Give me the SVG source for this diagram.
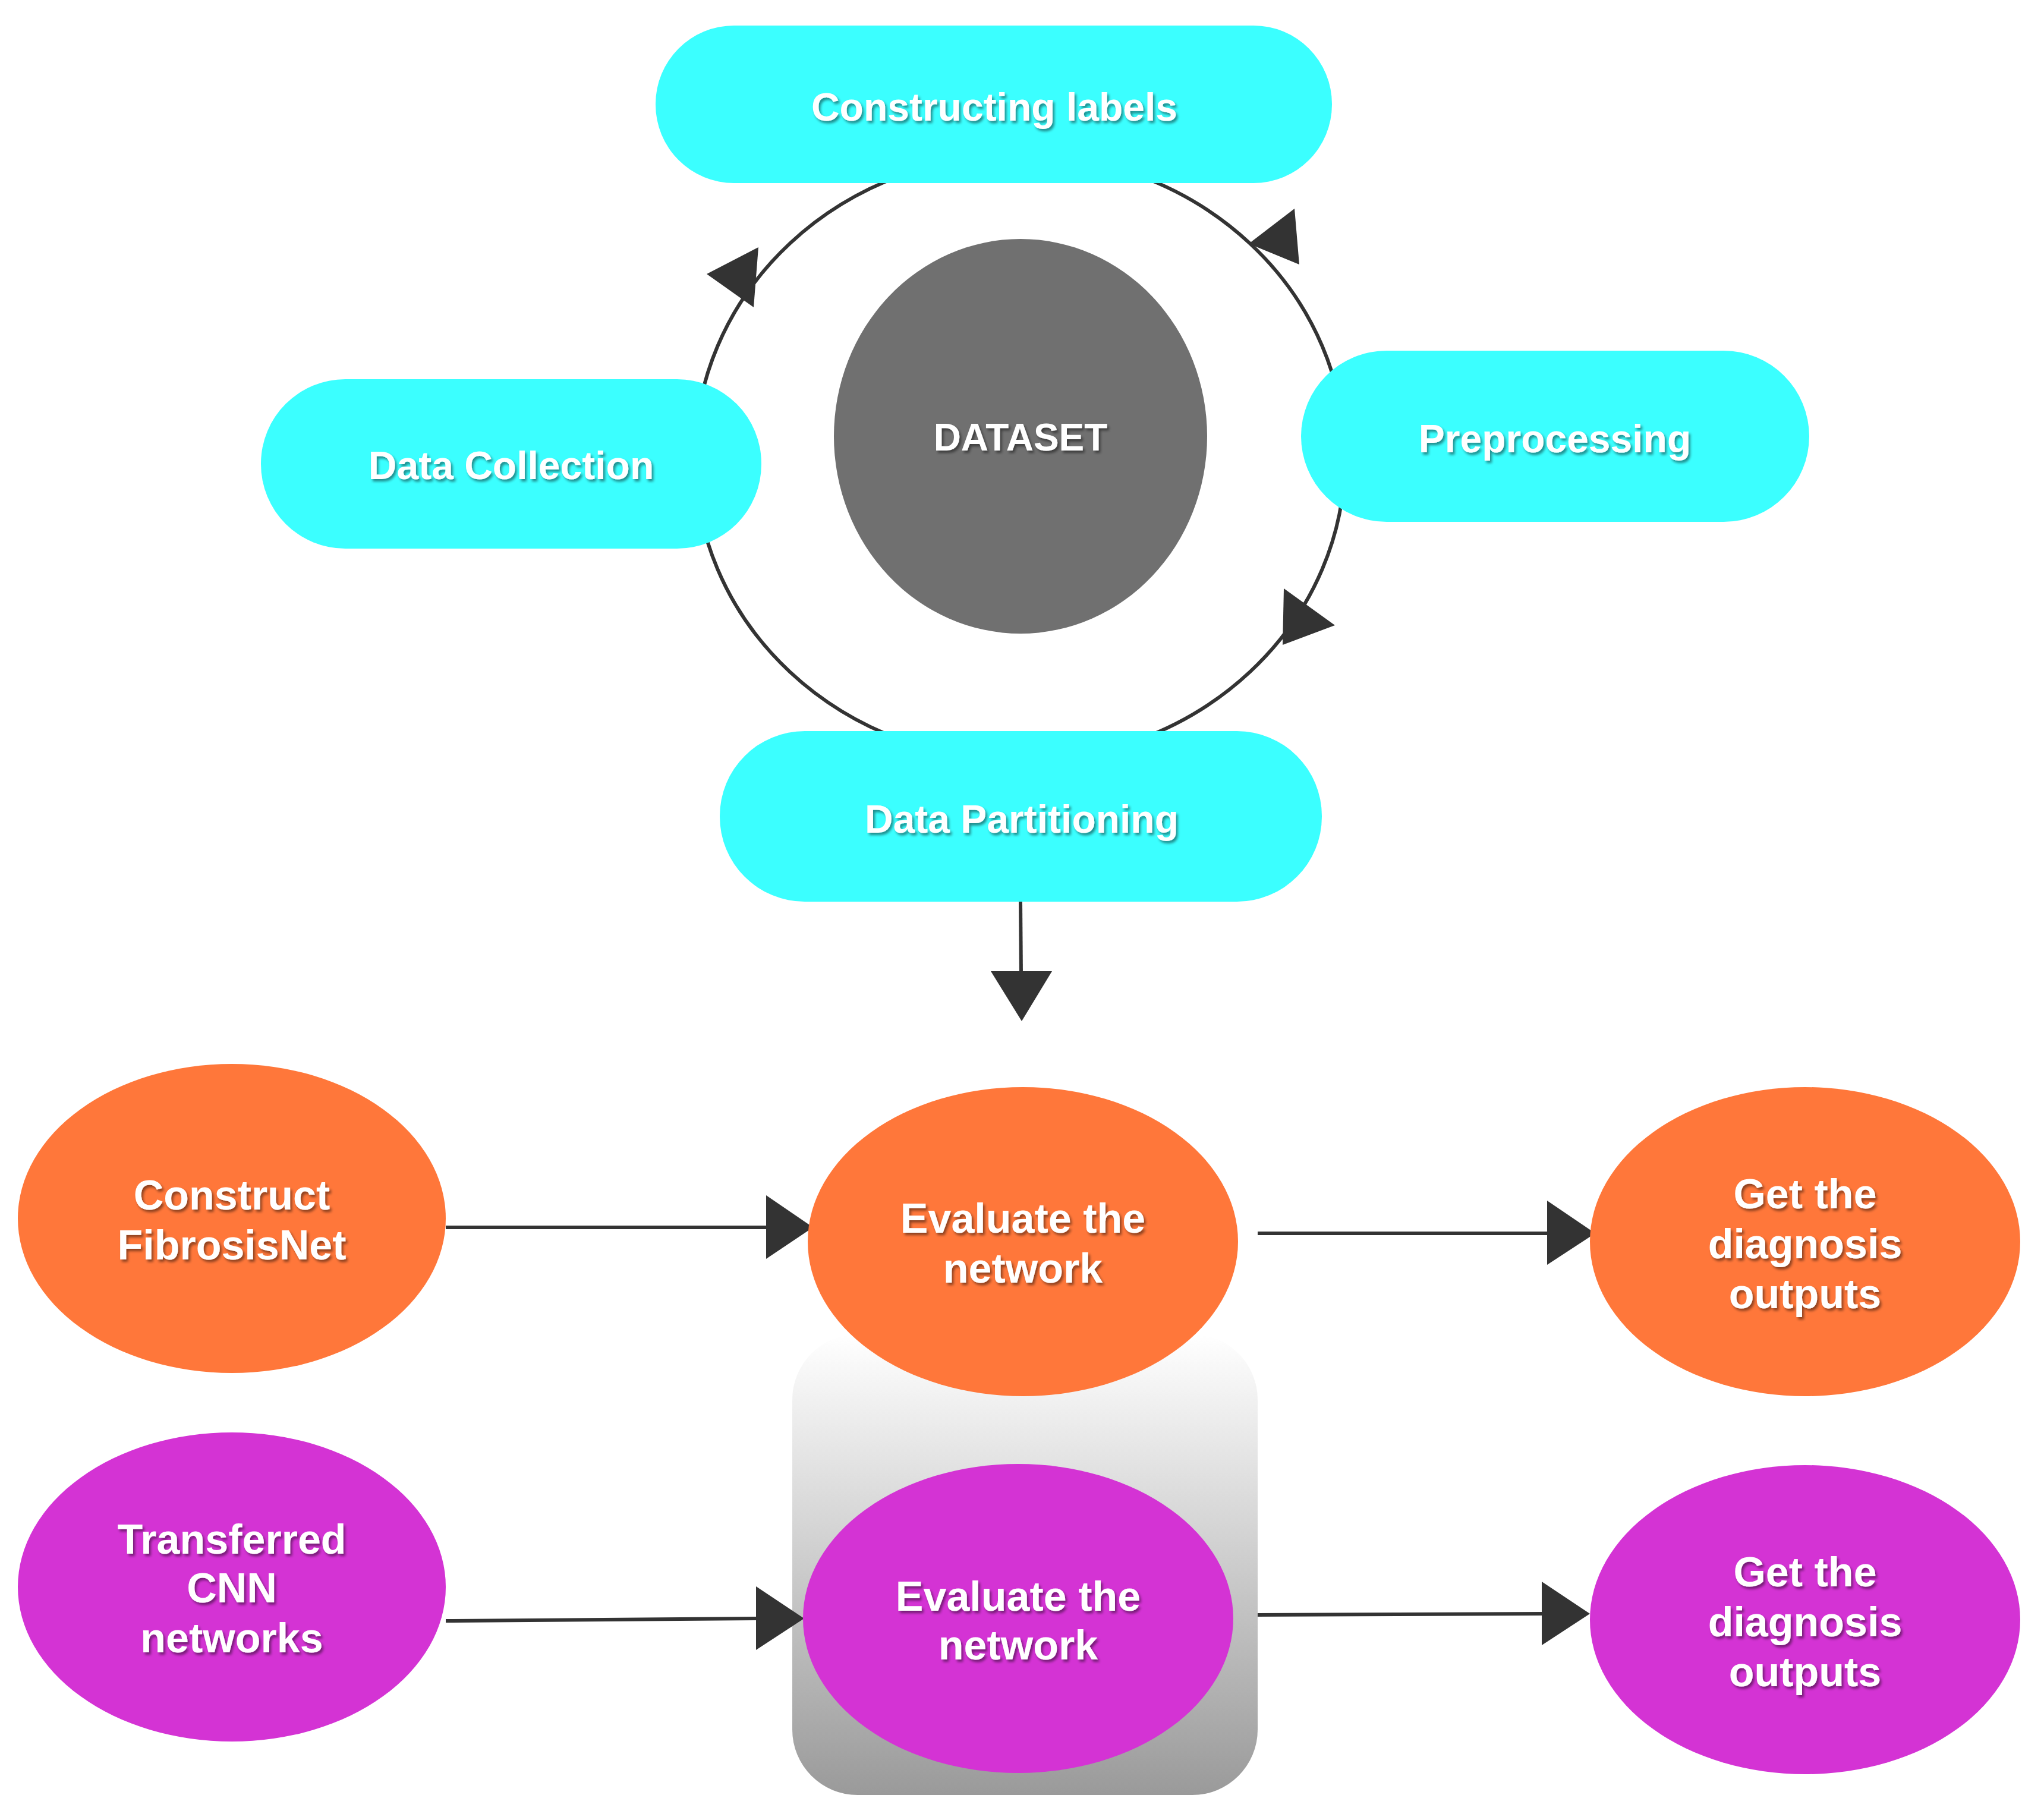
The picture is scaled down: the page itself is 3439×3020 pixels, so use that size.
<svg xmlns="http://www.w3.org/2000/svg" width="3439" height="3020" viewBox="0 0 3439 3020">
<defs>
<linearGradient id="g" x1="0" y1="0" x2="0" y2="1"><stop offset="0" stop-color="#ffffff"/><stop offset="1" stop-color="#9a9a9a"/></linearGradient>
<filter id="sh" x="-10%" y="-10%" width="120%" height="130%"><feDropShadow dx="3" dy="4" stdDeviation="2" flood-color="#000" flood-opacity="0.45"/></filter>
<style>
.t{font-family:"Liberation Sans",Arial,sans-serif;font-weight:bold;fill:#fff;text-anchor:middle;dominant-baseline:central;filter:url(#sh)}
.c{fill:#3BFFFF}.o{fill:#FF773A}.m{fill:#D433D4}
.ln{stroke:#333;stroke-width:6;fill:none}
.ah{fill:#333}
</style>
</defs>
<rect width="3439" height="3020" fill="#fff"/>
<rect x="1333" y="2245" width="783" height="775" rx="110" fill="url(#g)"/>
<g id="connectors">
<ellipse cx="1716" cy="770" rx="547" ry="510" class="ln"/>
<polygon class="ah" points="2101,410 2178,351 2186,445"/>
<polygon class="ah" points="1189,461 1276,416 1268,517"/>
<polygon class="ah" points="2160,990 2246,1052 2158,1085"/>
<line class="ln" x1="1717" y1="1517" x2="1718" y2="1640"/>
<polygon class="ah" points="1667,1634 1770,1634 1719,1718"/>
<line class="ln" x1="750" y1="2065" x2="1294" y2="2065"/>
<polygon class="ah" points="1289,2011 1289,2118 1368,2065"/>
<line class="ln" x1="2116" y1="2075" x2="2610" y2="2075"/>
<polygon class="ah" points="2603,2020 2603,2128 2684,2075"/>
<line class="ln" x1="750" y1="2727" x2="1279" y2="2723"/>
<polygon class="ah" points="1272,2669 1272,2776 1353,2723"/>
<line class="ln" x1="2116" y1="2717" x2="2599" y2="2715"/>
<polygon class="ah" points="2594,2661 2594,2768 2675,2715"/>
</g>
<g id="dataset"><ellipse cx="1717" cy="734" rx="314" ry="332" fill="#707070"/><text class="t" x="1717" y="736" font-size="64">DATASET</text></g>
<g id="labels"><rect class="c" x="1103" y="43" width="1138" height="265" rx="132"/><text class="t" x="1673" y="180" font-size="66">Constructing labels</text></g>
<g id="preproc"><rect class="c" x="2189" y="590" width="855" height="288" rx="144"/><text class="t" x="2616" y="738" font-size="66">Preprocessing</text></g>
<g id="collection"><rect class="c" x="439" y="638" width="842" height="285" rx="142"/><text class="t" x="860" y="783" font-size="66">Data Collection</text></g>
<g id="partition"><rect class="c" x="1211" y="1230" width="1013" height="287" rx="143"/><text class="t" x="1719" y="1378" font-size="66">Data Partitioning</text></g>
<g id="construct"><ellipse class="o" cx="390" cy="2050" rx="360" ry="260"/><text class="t" x="390" y="2011" font-size="70">Construct</text><text class="t" x="390" y="2095" font-size="70">FibrosisNet</text></g>
<g id="eval1"><ellipse class="o" cx="1721" cy="2089" rx="362" ry="260"/><text class="t" x="1721" y="2050" font-size="70">Evaluate the</text><text class="t" x="1721" y="2134" font-size="70">network</text></g>
<g id="get1"><ellipse class="o" cx="3037" cy="2089" rx="362" ry="260"/><text class="t" x="3037" y="2009" font-size="70">Get the</text><text class="t" x="3037" y="2093" font-size="70">diagnosis</text><text class="t" x="3037" y="2177" font-size="70">outputs</text></g>
<g id="transfer"><ellipse class="m" cx="390" cy="2670" rx="360" ry="260"/><text class="t" x="390" y="2590" font-size="70">Transferred</text><text class="t" x="390" y="2672" font-size="70">CNN</text><text class="t" x="390" y="2756" font-size="70">networks</text></g>
<g id="eval2"><ellipse class="m" cx="1713" cy="2723" rx="362" ry="260"/><text class="t" x="1713" y="2686" font-size="70">Evaluate the</text><text class="t" x="1713" y="2768" font-size="70">network</text></g>
<g id="get2"><ellipse class="m" cx="3037" cy="2725" rx="362" ry="260"/><text class="t" x="3037" y="2645" font-size="70">Get the</text><text class="t" x="3037" y="2729" font-size="70">diagnosis</text><text class="t" x="3037" y="2813" font-size="70">outputs</text></g>
</svg>
